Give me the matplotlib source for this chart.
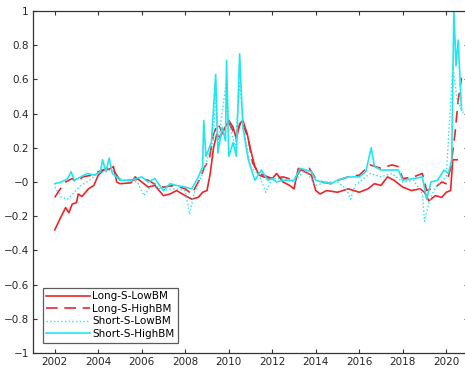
import numpy as np
import matplotlib
matplotlib.use("Agg")
import matplotlib.pyplot as plt

# decimal-year dates and values for each series
long_low_t = [2002.0, 2002.3, 2002.5, 2002.65, 2002.8, 2003.0, 2003.08, 2003.25, 2003.55,
              2003.8, 2004.0, 2004.25, 2004.5, 2004.7, 2004.85, 2005.0, 2005.5, 2005.7,
              2006.0, 2006.3, 2006.6, 2007.0, 2007.3, 2007.6, 2008.0, 2008.3, 2008.6,
              2008.8, 2009.0, 2009.15, 2009.3, 2009.45, 2009.6, 2009.75, 2010.0, 2010.2,
              2010.35, 2010.5, 2010.65, 2010.85, 2011.0, 2011.2, 2011.4, 2011.6, 2012.0,
              2012.2, 2012.5, 2012.8, 2013.0, 2013.2, 2013.5, 2013.8, 2014.0, 2014.2,
              2014.5, 2015.0, 2015.5, 2016.0, 2016.4, 2016.7, 2017.0, 2017.3, 2017.6,
              2018.0, 2018.4, 2018.8, 2019.0, 2019.2, 2019.5, 2019.8, 2020.0, 2020.2,
              2020.3, 2020.5]
long_low = [-0.28, -0.20, -0.15, -0.18, -0.13, -0.12, -0.07, -0.085, -0.04,
            -0.02, 0.04, 0.07, 0.075, 0.09, 0.0, -0.01, -0.005, 0.03,
            0.0, -0.03, -0.02, -0.08, -0.07, -0.05, -0.08, -0.10, -0.09,
            -0.06, -0.05, 0.05, 0.20, 0.28, 0.26, 0.30, 0.36, 0.32,
            0.25, 0.34, 0.36, 0.28, 0.19, 0.09, 0.04, 0.03, 0.02,
            0.05, 0.0, -0.02, -0.04, 0.08, 0.06, 0.04, -0.05, -0.07,
            -0.05, -0.06, -0.04, -0.06, -0.04, -0.01, -0.02, 0.03, 0.01,
            -0.03, -0.05, -0.04, -0.06, -0.11, -0.08, -0.09, -0.06, -0.05,
            0.13, 0.13]

long_high_t = [2002.0, 2002.2, 2002.5, 2002.8, 2003.0, 2003.3, 2003.7, 2004.0, 2004.4,
               2004.7, 2005.0, 2005.5, 2006.0, 2006.3, 2006.7, 2007.0, 2007.5, 2008.0,
               2008.3, 2008.6, 2008.9, 2009.1, 2009.3, 2009.5, 2009.7, 2010.0, 2010.3,
               2010.6, 2010.9, 2011.1, 2011.4, 2012.0, 2012.5, 2013.0, 2013.3, 2013.7,
               2014.0, 2014.3, 2014.7, 2015.0, 2015.5, 2016.0, 2016.5, 2017.0, 2017.5,
               2017.8, 2018.0, 2018.5, 2018.9, 2019.1, 2019.5, 2019.8, 2020.0, 2020.2,
               2020.4, 2020.55, 2020.7]
long_high = [-0.09, -0.05, 0.0, 0.02, 0.0, 0.03, 0.04, 0.06, 0.08,
             0.07, 0.01, 0.01, 0.02, 0.01, -0.02, -0.03, -0.02, -0.04,
             -0.07, 0.0, 0.09, 0.13, 0.28, 0.34, 0.29, 0.35, 0.27,
             0.36, 0.25, 0.11, 0.05, 0.02, 0.03, 0.01, 0.07, 0.08,
             0.02, 0.0, -0.01, 0.01, 0.03, 0.04, 0.10, 0.08, 0.10,
             0.09, 0.02, 0.03, 0.05, -0.05, -0.03, 0.0, -0.01, 0.08,
             0.28, 0.48, 0.61]

short_low_t = [2002.0, 2002.3, 2002.6, 2002.9, 2003.2, 2003.6, 2004.0, 2004.5, 2004.9,
               2005.2, 2005.8, 2006.1, 2006.5, 2007.0, 2007.5, 2008.0, 2008.2, 2008.4,
               2008.8, 2009.0, 2009.3, 2009.4, 2009.5, 2009.9, 2010.0, 2010.3, 2010.5,
               2010.7, 2011.0, 2011.4, 2011.7, 2012.0, 2012.5, 2013.0, 2013.5, 2014.0,
               2014.5, 2015.0, 2015.4, 2015.6, 2015.8, 2016.0, 2016.5, 2017.0, 2017.5,
               2018.0, 2018.5, 2018.9, 2019.0, 2019.2, 2019.5, 2020.0, 2020.3, 2020.5,
               2020.8]
short_low = [-0.03, -0.09, -0.10, -0.06, -0.02, 0.01, 0.05, 0.07, 0.03,
             0.01, 0.0, -0.08, -0.01, -0.05, -0.04, -0.05, -0.19, -0.07,
             0.05, 0.13, 0.25, 0.55, 0.22, 0.60, 0.36, 0.20, 0.58,
             0.30, 0.09, 0.04, -0.06, 0.02, 0.02, 0.0, 0.07, -0.02,
             0.0, 0.0, -0.04, -0.10, -0.02, 0.0, 0.05, 0.03, 0.05,
             0.0, 0.01, -0.07, -0.23, -0.12, -0.03, 0.03, 0.68, 0.48,
             0.40]

short_high_t = [2002.0, 2002.3, 2002.6, 2002.75, 2002.9, 2003.2, 2003.5, 2003.8, 2004.1,
                2004.2, 2004.35, 2004.5, 2004.65, 2005.0, 2005.5, 2006.0, 2006.3, 2006.6,
                2007.0, 2007.3, 2007.6, 2008.0, 2008.3, 2008.6, 2008.8, 2008.85, 2008.95,
                2009.2, 2009.4, 2009.5, 2009.7, 2009.85, 2009.9, 2010.0, 2010.2, 2010.35,
                2010.5, 2010.65, 2010.9, 2011.2, 2011.5, 2011.8, 2012.0, 2012.2, 2012.5,
                2013.0, 2013.3, 2013.8, 2014.0, 2014.3, 2014.7, 2015.0, 2015.5, 2016.0,
                2016.3, 2016.55, 2016.7, 2017.0, 2017.5, 2017.8, 2018.0, 2018.5, 2018.9,
                2019.1, 2019.3, 2019.6, 2019.9, 2020.1, 2020.25, 2020.35, 2020.45, 2020.55,
                2020.7]
short_high = [-0.01, 0.0, 0.02, 0.06, 0.01, 0.03, 0.05, 0.04, 0.06,
              0.13, 0.06, 0.14, 0.05, 0.01, 0.01, 0.03, 0.0, 0.02,
              -0.05, -0.01, -0.02, -0.03, -0.04, 0.03, 0.09, 0.36, 0.15,
              0.23, 0.63, 0.17, 0.32, 0.24, 0.71, 0.15, 0.23, 0.15,
              0.75, 0.32, 0.13, 0.01, 0.07, 0.01, 0.02, 0.0, 0.01,
              0.01, 0.08, 0.06, 0.01, 0.0, -0.01, 0.01, 0.03, 0.03,
              0.06, 0.20, 0.09, 0.07, 0.07, 0.07, 0.01, 0.02, 0.03,
              -0.10, 0.0, 0.01, 0.07, 0.05, 0.13, 1.0, 0.68, 0.83,
              0.42]

labels = ["Long-S-LowBM", "Long-S-HighBM", "Short-S-LowBM", "Short-S-HighBM"]
x_ticks = list(range(2002, 2021, 2))
y_ticks = [round(v, 1) for v in np.arange(-1, 1.01, 0.2)]

red = "#e8262b"
cyan = "#22e5ef"
edge = "#333333"

fig = plt.figure(figsize=(4.65, 3.71), dpi=100)
ax = fig.add_axes([33 / 465, 18 / 371, 435 / 465, 342 / 371])

ax.plot(long_low_t, long_low, color=red, lw=1.2, label=labels[0])
ax.plot(long_high_t, long_high, color=red, lw=1.2, ls=(0, (7, 4)), label=labels[1])
ax.plot(short_low_t, short_low, color=cyan, lw=1.0, ls=":", label=labels[2])
ax.plot(short_high_t, short_high, color=cyan, lw=1.2, label=labels[3])

ax.set_xlim(2001, 2021)
ax.set_ylim(-1, 1)
ax.set_xticks(x_ticks)
ax.set_yticks(y_ticks)
ax.set_yticklabels([f"{v:g}".replace("-", "\u2212") for v in y_ticks])

ax.tick_params(direction="in", length=3, width=0.8, colors=edge, labelsize=7.5,
               top=True, right=True, labelcolor="#262626", pad=3)
for s in ax.spines.values():
    s.set_color(edge)
    s.set_linewidth(0.9)

leg = ax.legend(loc="lower left", bbox_to_anchor=(0.022, 0.03), fontsize=7.5,
                handlelength=4.2, handletextpad=0.2, labelspacing=0.25,
                borderpad=0.35, borderaxespad=0, fancybox=False, frameon=True)
leg.get_frame().set_edgecolor(edge)
leg.get_frame().set_linewidth(0.9)

fig.savefig("out.png", dpi=100)
